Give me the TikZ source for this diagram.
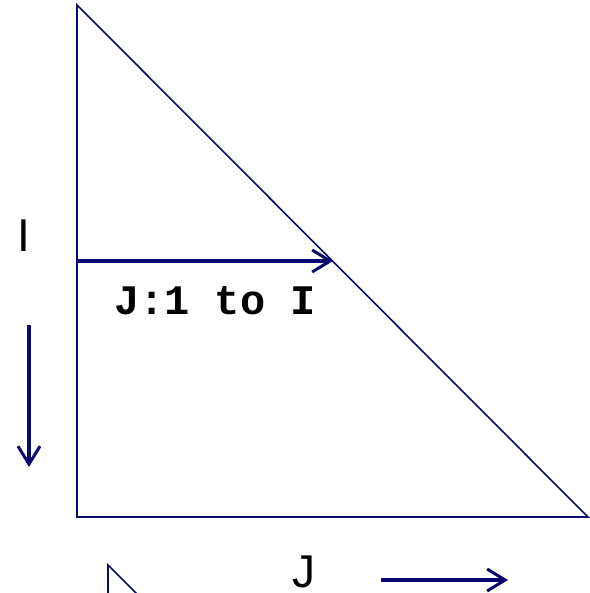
\documentclass[tikz,border=0pt]{standalone}
\usepackage{fontspec}
\setmainfont{Liberation Sans}
\newfontfamily\monofont{Liberation Mono}
\usetikzlibrary{arrows.meta}
\definecolor{navy}{RGB}{10,10,110}
\tikzset{
  thinline/.style={draw=navy, line width=1.6pt},
  thickarrow/.style={draw=navy, line width=4pt, -{Straight Barb[length=18pt,width=22pt,line width=3pt]}},
  biglabel/.style={font=\fontsize{46}{50}\selectfont, text=black, inner sep=0pt},
  monolabel/.style={font=\monofont\bfseries\fontsize{42}{44}\selectfont, text=black, inner sep=0pt}
}
\begin{document}
\begin{tikzpicture}[x=1pt,y=-1pt]
\useasboundingbox (0,0) rectangle (589,593);
\coordinate (top) at (77,5);
\coordinate (bl) at (77,517);
\coordinate (br) at (588,517);
\draw[thinline] (top) -- (bl) -- (br) -- cycle;
\coordinate (hs) at (77,261);
\coordinate (he) at (333,261);
\draw[thickarrow] (hs) -- (he);
\node[monolabel] (lab) at (215,301) {J:1 to I};
\node[biglabel] (I) at (24,236) {I};
\coordinate (vs) at (29,325);
\coordinate (ve) at (29,467);
\draw[thickarrow] (vs) -- (ve);
\node[biglabel, anchor=base] (J) at (304,587) {J};
\coordinate (bs) at (381,580);
\coordinate (be) at (508,580);
\draw[thickarrow] (bs) -- (be);
\begin{scope}
\clip (0,0) rectangle (589,593);
\coordinate (st) at (108,565);
\coordinate (sb) at (108,600);
\coordinate (sd) at (143,600);
\draw[thinline] (sb) -- (st) -- (sd);
\end{scope}
\end{tikzpicture}
\end{document}
